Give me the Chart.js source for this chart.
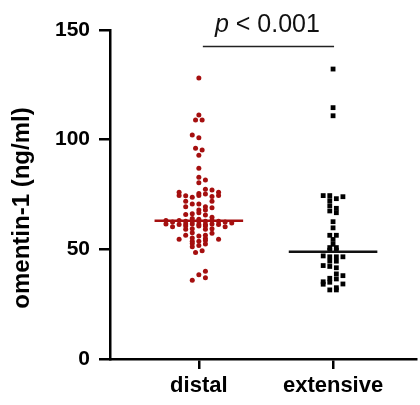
<!DOCTYPE html>
<html>
<head>
<meta charset="utf-8">
<script src="https://cdn.jsdelivr.net/npm/chart.js@4.4.1/dist/chart.umd.min.js"></script>
<style>
html,body{margin:0;padding:0;background:#fff;}
#wrap{width:420px;height:405px;position:relative;}
</style>
</head>
<body>
<div id="wrap"><canvas id="c" width="420" height="405"></canvas></div>
<script>
// ---- data ----
const categories = ['distal', 'extensive'];
const yTicks = [0, 50, 100, 150];
const yTitle = 'omentin-1 (ng/ml)';
const pLabel = '< 0.001';

// distal: omentin-1 values and beeswarm column (offset index)
const distalValues = [128.1,111.3,109.0,109.0,102.1,100.9,96.1,95.3,92.9,87.0,82.9,81.6,80.4,77.4,77.1,
  76.0,74.6,76.0,74.6,75.5,75.2,74.4,73.8,74.5,74.1,
  71.9,71.9,70.7,70.7,69.4,69.4,69.0,67.9,67.9,66.7,65.9,66.2,65.6,64.6,64.1,63.7,
  63.1,62.5,63.1,62.8,62.8,62.8,62.8,63.1,62.8,62.5,62.0,
  61.6,61.3,61.6,61.6,61.3,61.3,61.6,61.3,
  60.3,60.6,60.6,60.6,60.3,
  59.1,59.4,59.1,59.4,57.3,57.6,56.4,56.1,56.4,
  54.6,55.2,54.9,54.6,53.7,53.7,54.0,52.7,52.4,51.8,51.2,
  49.4,48.5,40.0,38.4,37.1,35.9];
const distalCols = [0,0,-0.5,0.5,-1,0,-0.5,0.5,0,0,0,1,0,1,2,
  -3,-3,3,3,0,1,-2,-1,0,2,
  -2,2,-1,0,-2,1,2,0,1,0,-2,-1,1,2,-1,0,
  -5,-4,-3,-2,-1,0,1,2,3,4,5,
  -5,-3,-2,-1,0,1,2,3,
  -4,-2,0,1,4,
  -2,-1,1,2,2,-1,-2,0,1,
  -3,-1,1,3,-1,0,1,-1,1,0,-1,
  0.5,-0.5,1,0,1,-1];

// extensive
const extensiveValues = [132.2,114.6,110.9,74.5,74.5,74.0,73.1,72.2,69.9,68.7,67.5,66.7,62.6,59.8,
  56.4,56.4,54.5,52.3,50.8,50.8,49.6,49.6,47.0,46.6,46.6,46.6,44.6,44.6,
  42.6,42.2,41.6,38.8,38.0,36.8,36.5,35.2,34.1,35.0,34.2,32.5,31.5,31.5];
const extensiveCols = [0,0,0,-1.5,-0.5,1.5,0.5,-0.5,-0.5,0.5,-0.5,0.5,0,0,
  -0.5,0.5,0,0,-0.5,0.5,-0.5,0.5,-1.5,-0.5,0.5,1.5,-0.5,0.5,
  -1.5,-0.5,0.5,0.5,1.5,-0.5,0.5,-1.5,-1.5,-0.5,1.5,0.5,0.5,-0.5];

const medians = [63.0, 48.9];

// ---- building ----
const COL = 0.049;      // category units per beeswarm column
const HALF = 0.33;      // half width of the median line
const RED = '#a50f0f';

function pts(vals, cols, cx){ return vals.map((v,i)=>({x: cx + cols[i]*COL, y: v})); }
function med(m, cx){ return [{x: cx-HALF, y: m}, {x: cx+HALF, y: m}]; }

const annot = {
  id: 'annot',
  afterDraw(chart){
    const ctx = chart.ctx, xs = chart.scales.x;
    const x1 = xs.getPixelForValue(1) + 4, x2 = xs.getPixelForValue(2) + 1;
    const ly = 46.5;
    ctx.save();
    ctx.strokeStyle = '#222'; ctx.lineWidth = 1.5;
    ctx.beginPath(); ctx.moveTo(x1, ly); ctx.lineTo(x2, ly); ctx.stroke();
    ctx.fillStyle = '#111'; ctx.textBaseline = 'alphabetic';
    const fI = 'italic 25px "Liberation Sans", Arial, sans-serif';
    const fN = '25px "Liberation Sans", Arial, sans-serif';
    ctx.font = fI; const wp = ctx.measureText('p').width;
    ctx.font = fN; const wr = ctx.measureText(' ' + pLabel).width;
    const cx = (x1 + x2)/2 - 1;
    let sx = cx - (wp + wr)/2;
    ctx.font = fI; ctx.fillText('p', sx, 31.5);
    ctx.font = fN; ctx.fillText(' ' + pLabel, sx + wp, 31.5);
    // y-axis title
    ctx.translate(22, 208);
    ctx.rotate(-Math.PI/2);
    ctx.fillStyle = '#000';
    ctx.font = 'bold 24px "Liberation Sans", Arial, sans-serif';
    ctx.textAlign = 'center'; ctx.textBaseline = 'middle';
    ctx.fillText(yTitle, 0, 0);
    ctx.restore();
  }
};

Chart.defaults.font.family = '"Liberation Sans", Arial, sans-serif';
Chart.defaults.color = '#000';

new Chart(document.getElementById('c'), {
  type: 'scatter',
  data: {
    datasets: [
      { label:'m1', data: med(medians[0], 1), showLine:true, borderColor: RED, borderWidth: 2.5, pointRadius: 0 },
      { label:'m2', data: med(medians[1], 2), showLine:true, borderColor: '#111', borderWidth: 2.5, pointRadius: 0 },
      { label: categories[0], data: pts(distalValues, distalCols, 1), pointStyle:'circle', pointRadius: 2.5,
        backgroundColor: RED, borderColor: RED, borderWidth: 0 },
      { label: categories[1], data: pts(extensiveValues, extensiveCols, 2), pointStyle:'rect', pointRadius: 3.4,
        backgroundColor: '#000', borderColor: '#000', borderWidth: 0 }
    ]
  },
  options: {
    responsive: false,
    animation: false,
    devicePixelRatio: 1,
    layout: { padding: { top: 30, right: 0, bottom: 0, left: 0 } },
    plugins: { legend: { display: false }, tooltip: { enabled: false } },
    scales: {
      x: {
        type: 'linear', min: 0.338, max: 2.618,
        afterBuildTicks: s => { s.ticks = [{value:1},{value:2}]; },
        afterFit: s => { s.height = 46; },
        ticks: { callback: v => categories[Math.round(v)-1], font: { size: 22, weight: 'bold' }, color:'#000', padding: 4, maxRotation: 0, autoSkip: false },
        grid: { drawOnChartArea: false, drawTicks: true, tickLength: 10, lineWidth: 2.5, color: '#000' },
        border: { display: true, width: 2.5, color: '#000' }
      },
      y: {
        min: 0, max: 150,
        afterBuildTicks: s => { s.ticks = yTicks.map(v => ({value: v})); },
        afterFit: s => { s.width = 110; },
        ticks: { font: { size: 21, weight: 'bold' }, color:'#000', padding: 9 },
        grid: { drawOnChartArea: false, drawTicks: true, tickLength: 11, lineWidth: 2.5, color: '#000' },
        border: { display: true, width: 2.5, color: '#000' },
        title: { display: false, text: yTitle }
      }
    }
  },
  plugins: [annot]
});
</script>
</body>
</html>
